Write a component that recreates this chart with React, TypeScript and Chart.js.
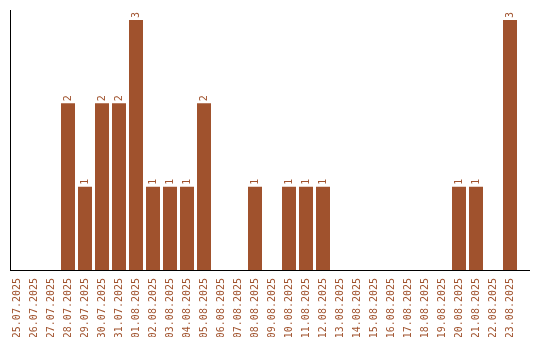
import React, { useEffect, useRef } from "react";
import { Chart, registerables } from "chart.js";

Chart.register(...registerables);

const categories: string[] = [
  "25.07.2025", "26.07.2025", "27.07.2025", "28.07.2025", "29.07.2025",
  "30.07.2025", "31.07.2025", "01.08.2025", "02.08.2025", "03.08.2025",
  "04.08.2025", "05.08.2025", "06.08.2025", "07.08.2025", "08.08.2025",
  "09.08.2025", "10.08.2025", "11.08.2025", "12.08.2025", "13.08.2025",
  "14.08.2025", "15.08.2025", "16.08.2025", "17.08.2025", "18.08.2025",
  "19.08.2025", "20.08.2025", "21.08.2025", "22.08.2025", "23.08.2025",
];

const counts: number[] = [
  0, 0, 0, 2, 1,
  2, 2, 3, 1, 1,
  1, 2, 0, 0, 1,
  0, 1, 1, 1, 0,
  0, 0, 0, 0, 0,
  0, 1, 1, 0, 3,
];

const COLOR = "#A0522D";
const FONT_FAMILY = "'DejaVu Sans Mono', monospace";

const axisLinesPlugin = {
  id: "axisLines",
  afterDatasetsDraw(chart: any) {
    const { ctx, chartArea } = chart;
    ctx.save();
    ctx.strokeStyle = "#000";
    ctx.lineWidth = 1;
    ctx.beginPath();
    const x = Math.round(chartArea.left + 1.5) + 0.5;
    const y = Math.round(chartArea.bottom) + 0.5;
    ctx.moveTo(x, chartArea.top);
    ctx.lineTo(x, y);
    ctx.moveTo(x - 0.5, y);
    ctx.lineTo(530, y);
    ctx.stroke();
    ctx.restore();
  },
};

const valueLabelsPlugin = {
  id: "valueLabels",
  afterDatasetsDraw(chart: any) {
    const { ctx } = chart;
    const meta = chart.getDatasetMeta(0);
    const data = chart.data.datasets[0].data as number[];
    ctx.save();
    ctx.fillStyle = COLOR;
    ctx.font = `10px ${FONT_FAMILY}`;
    ctx.textAlign = "left";
    ctx.textBaseline = "middle";
    meta.data.forEach((bar: any, i: number) => {
      const v = data[i];
      if (!v) return;
      ctx.save();
      ctx.translate(bar.x, bar.y - 2);
      ctx.rotate(-Math.PI / 2);
      ctx.fillText(String(v), 0, 0);
      ctx.restore();
    });
    ctx.restore();
  },
};

export default function App() {
  const canvasRef = useRef<HTMLCanvasElement | null>(null);

  useEffect(() => {
    if (!canvasRef.current) return;
    const chart = new Chart(canvasRef.current, {
      type: "bar",
      data: {
        labels: categories,
        datasets: [
          {
            data: counts,
            backgroundColor: COLOR,
            borderWidth: 0,
            categoryPercentage: 1,
            barPercentage: 14 / 17,
          },
        ],
      },
      options: {
        animation: false,
        responsive: false,
        maintainAspectRatio: false,
        layout: { padding: { left: 8.5, right: 21.5, top: 10, bottom: 3 } },
        plugins: {
          legend: { display: false },
          tooltip: { enabled: false },
          title: { display: false },
        },
        scales: {
          x: {
            grid: { display: false, drawTicks: false },
            border: { display: false },
            afterFit: (scale: any) => {
              scale.height = 67;
            },
            ticks: {
              autoSkip: false,
              minRotation: 90,
              maxRotation: 90,
              padding: 8,
              color: COLOR,
              font: { family: FONT_FAMILY, size: 10 },
            },
          },
          y: {
            display: false,
            min: 0,
            max: 3.12,
          },
        },
      },
      plugins: [axisLinesPlugin, valueLabelsPlugin],
    });
    return () => chart.destroy();
  }, []);

  return (
    <div style={{ position: "fixed", left: 0, top: 0, width: 540, height: 340, background: "#fff" }}>
      <canvas ref={canvasRef} width={540} height={340} style={{ width: 540, height: 340 }} />
    </div>
  );
}
